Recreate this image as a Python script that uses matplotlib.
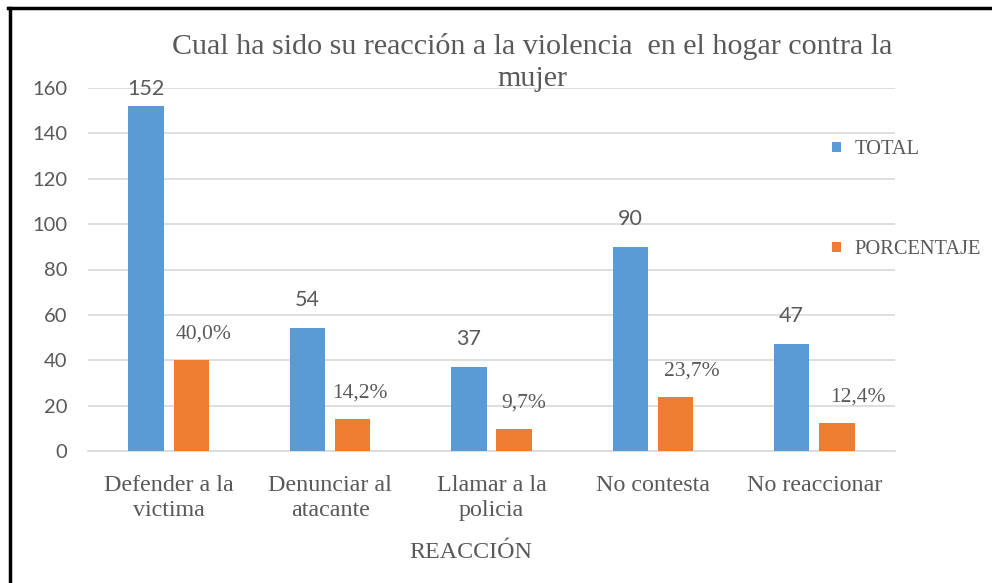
import matplotlib.pyplot as plt
import numpy as np
from matplotlib.lines import Line2D

# Datos del grafico
categorias = ["Defender a la\nvictima", "Denunciar al\natacante", "Llamar a la\npolicia",
              "No contesta", "No reaccionar"]
total = [152, 54, 37, 90, 47]
porcentaje = [40.0, 14.2, 9.7, 23.7, 12.4]
etiquetas_pct = ["40,0%", "14,2%", "9,7%", "23,7%", "12,4%"]

# Desplazamientos de las etiquetas (puntos)
dx_pct = [9, 5, 7, 12, 15]
dy_total = [5, 13, 13, 13, 13]

azul = "#5B9BD5"
naranja = "#ED7D31"
gris = "#595959"
serif = "Liberation Serif"

W, H = 992, 583
fig = plt.figure(figsize=(W / 100, H / 100), dpi=100)
ax = fig.add_axes([88 / W, 1 - 451 / H, (895 - 88) / W, (451 - 88) / H])

x = np.arange(len(categorias))
ancho = 0.22
b1 = ax.bar(x - 0.14, total, ancho, color=azul, label="TOTAL", zorder=3)
b2 = ax.bar(x + 0.14, porcentaje, ancho, color=naranja, label="PORCENTAJE", zorder=3)

for rect, v, dy in zip(b1, total, dy_total):
    ax.annotate(str(v), (rect.get_x() + rect.get_width() / 2, rect.get_height()),
                xytext=(0, dy), textcoords="offset points", ha="center", va="bottom",
                fontsize=15.5, family="Lato", color=gris)

for rect, t, dx in zip(b2, etiquetas_pct, dx_pct):
    ax.annotate(t, (rect.get_x() + rect.get_width() / 2, rect.get_height()),
                xytext=(dx, 12), textcoords="offset points", ha="center", va="bottom",
                fontsize=15.5, family=serif, color=gris)

ax.set_xlim(-0.5, len(categorias) - 0.5)
ax.set_ylim(0, 160)
ax.set_yticks(range(0, 161, 20))
ax.yaxis.grid(True, color="#D9D9D9", linewidth=1.2, zorder=0)
ax.set_xticks(x)
ax.set_xticklabels(categorias, family=serif, fontsize=17.3, color=gris, linespacing=1.29)
for lab in ax.get_yticklabels():
    lab.set_family("Lato")
    lab.set_fontsize(14.5)
    lab.set_color(gris)
ax.tick_params(axis="x", length=0, pad=17)
ax.tick_params(axis="y", length=0, pad=15)
for s in ["top", "right", "left"]:
    ax.spines[s].set_visible(False)
ax.spines["bottom"].set_color("#D9D9D9")
ax.spines["bottom"].set_linewidth(1.2)

# Titulo y etiqueta del eje
fig.text(532 / W, 1 - 62 / H, "Cual ha sido su reacción a la violencia  en el hogar contra la\nmujer",
         ha="center", va="center", family=serif, fontsize=21.6, color=gris, linespacing=1.3)
fig.text(471 / W, 1 - 553 / H, "REACCIÓN", ha="center", va="center",
         family=serif, fontsize=17.3, color=gris)

# Leyenda
for barra, yc in [(b1, 150), (b2, 250)]:
    fig.legend(handles=[barra], loc="center left", bbox_to_anchor=(814 / W, 1 - yc / H),
               frameon=False, prop={"family": serif, "size": 14.7}, labelcolor=gris,
               handlelength=0.4, handleheight=0.4, handletextpad=0.7)

# Borde de la captura
fig.add_artist(Line2D([8 / W, 1], [1 - 8 / H, 1 - 8 / H], color="black", linewidth=2.5))
fig.add_artist(Line2D([10 / W, 10 / W], [0, 1 - 8 / H], color="black", linewidth=2.5))

fig.savefig("out.png", dpi=100)
